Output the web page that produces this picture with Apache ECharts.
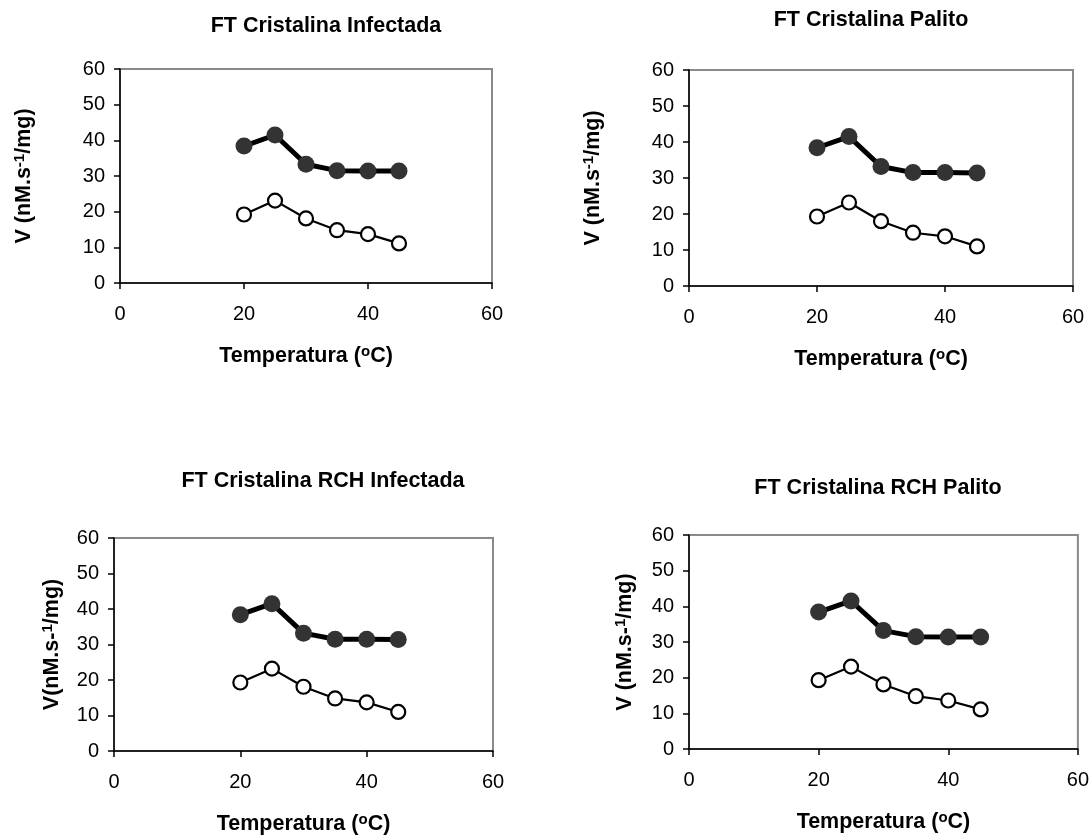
<!DOCTYPE html>
<html>
<head>
<meta charset="utf-8">
<script src="https://cdn.jsdelivr.net/npm/echarts@6/dist/echarts.min.js"></script>
<style>
html,body{margin:0;padding:0;background:#fff;}
#chart{width:1092px;height:837px;}
</style>
</head>
<body>
<div id="chart"></div>
<script>
// ---- data ----
var temperatures = [20, 25, 30, 35, 40, 45];

var titles = [
  'FT Cristalina Infectada',
  'FT Cristalina Palito',
  'FT Cristalina RCH Infectada',
  'FT Cristalina RCH Palito'
];

var yNames = [
  'V (nM.s{sup|-1}/mg)',
  'V (nM.s{sup|-1}/mg)',
  'V(nM.s-{sup|1}/mg)',
  'V (nM.s-{sup|1}/mg)'
];

var xName = 'Temperatura ({sup|o}C)';

var xTicks = [0, 20, 40, 60];
var yTicks = [0, 10, 20, 30, 40, 50, 60];

var infectadaFilled = [38.4, 41.5, 33.3, 31.5, 31.4, 31.4];
var infectadaOpen   = [19.2, 23.1, 18.1, 14.8, 13.7, 11.1];

var palitoFilled = [38.4, 41.5, 33.2, 31.5, 31.5, 31.4];
var palitoOpen   = [19.3, 23.2, 18.0, 14.8, 13.8, 11.0];

var rchInfectadaFilled = [38.4, 41.5, 33.2, 31.5, 31.5, 31.4];
var rchInfectadaOpen   = [19.3, 23.2, 18.1, 14.8, 13.7, 11.0];

var rchPalitoFilled = [38.4, 41.5, 33.2, 31.5, 31.4, 31.4];
var rchPalitoOpen   = [19.3, 23.1, 18.1, 14.8, 13.6, 11.1];

var filledSets = [infectadaFilled, palitoFilled, rchInfectadaFilled, rchPalitoFilled];
var openSets = [infectadaOpen, palitoOpen, rchInfectadaOpen, rchPalitoOpen];

// ---- layout ----
var grids = [
  {left: 120, top: 69, width: 372, height: 214},
  {left: 689, top: 70, width: 384, height: 216},
  {left: 114, top: 538, width: 379, height: 214},
  {left: 689, top: 535, width: 390, height: 214}
];
var titlePos = [
  {x: 326, y: 15},
  {x: 871, y: 9},
  {x: 323, y: 470},
  {x: 878, y: 477}
];
var yNameGaps = [84, 84, 50, 52];

var FONT = '"Liberation Sans", Arial, sans-serif';

function pair(xs, ys) {
  return xs.map(function (x, i) { return [x, ys[i]]; });
}

var nameStyle = {
  fontFamily: FONT, fontWeight: 'bold', fontSize: 21.5, color: '#000', lineHeight: 24,
  rich: {sup: {fontFamily: FONT, fontWeight: 'bold', fontSize: 15, verticalAlign: 'top', lineHeight: 13, color: '#000'}}
};

var option = {
  backgroundColor: '#ffffff',
  animation: false,
  title: [],
  grid: [],
  xAxis: [],
  yAxis: [],
  series: []
};

for (var i = 0; i < 4; i++) {
  option.title.push({
    text: titles[i],
    left: titlePos[i].x,
    top: titlePos[i].y,
    textAlign: 'center',
    padding: 0,
    textStyle: {fontFamily: FONT, fontWeight: 'bold', fontSize: 21.5, color: '#000'}
  });
  option.grid.push({
    left: grids[i].left, top: grids[i].top, width: grids[i].width, height: grids[i].height,
    show: true, borderColor: '#8a8a8a', borderWidth: 2, backgroundColor: '#fff',
    containLabel: false
  });
  option.xAxis.push({
    type: 'value', gridIndex: i, min: xTicks[0], max: xTicks[xTicks.length - 1], interval: 20,
    name: xName, nameLocation: 'middle', nameGap: 61,
    nameTextStyle: nameStyle,
    axisLine: {show: true, onZero: false, lineStyle: {color: '#000', width: 1.5}},
    axisTick: {show: true, inside: false, length: 6, lineStyle: {color: '#000', width: 1.5}},
    axisLabel: {fontFamily: FONT, fontSize: 20, color: '#000', margin: 21},
    splitLine: {show: false}
  });
  option.yAxis.push({
    type: 'value', gridIndex: i, min: yTicks[0], max: yTicks[yTicks.length - 1], interval: 10,
    name: yNames[i], nameLocation: 'middle', nameGap: yNameGaps[i], nameRotate: 90,
    nameTextStyle: nameStyle,
    axisLine: {show: true, onZero: false, lineStyle: {color: '#000', width: 1.5}},
    axisTick: {show: true, inside: false, length: 6, lineStyle: {color: '#000', width: 1.5}},
    axisLabel: {fontFamily: FONT, fontSize: 20, color: '#000', margin: 15},
    splitLine: {show: false}
  });
  option.series.push({
    type: 'line', xAxisIndex: i, yAxisIndex: i,
    data: pair(temperatures, filledSets[i]),
    symbol: 'circle', symbolSize: 17,
    lineStyle: {color: '#000', width: 5},
    itemStyle: {color: '#333333', borderWidth: 0},
    z: 3
  });
  option.series.push({
    type: 'line', xAxisIndex: i, yAxisIndex: i,
    data: pair(temperatures, openSets[i]),
    symbol: 'circle', symbolSize: 14,
    lineStyle: {color: '#000', width: 2.2},
    itemStyle: {color: '#ffffff', borderColor: '#000', borderWidth: 2.2},
    z: 3
  });
}

var chart = echarts.init(document.getElementById('chart'), null, {renderer: 'canvas'});
chart.setOption(option);
</script>
</body>
</html>
